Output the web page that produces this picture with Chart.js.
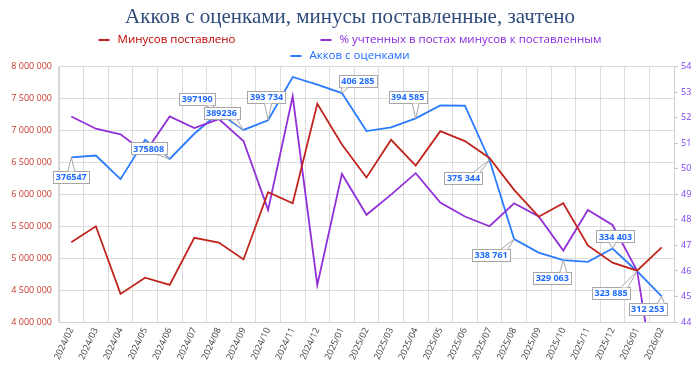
<!DOCTYPE html>
<html>
<head>
<meta charset="utf-8">
<script src="https://cdn.jsdelivr.net/npm/chart.js@4"></script>
<style>
  html, body { margin: 0; padding: 0; background: #fff; }
  #wrap { width: 700px; height: 368px; }
</style>
</head>
<body>
<div id="wrap"><canvas id="chart"></canvas></div>
<script>
const months = ["2024/02", "2024/03", "2024/04", "2024/05", "2024/06", "2024/07", "2024/08", "2024/09",
  "2024/10", "2024/11", "2024/12", "2025/01", "2025/02", "2025/03", "2025/04", "2025/05", "2025/06",
  "2025/07", "2025/08", "2025/09", "2025/10", "2025/11", "2025/12", "2026/01", "2026/02"];

const minusesGiven = [5250000, 5500000, 4440000, 4695000, 4580000, 5320000, 5245000, 4980000,
  6035000, 5860000, 7420000, 6780000, 6265000, 6855000, 6450000, 6990000, 6835000,
  6570000, 6070000, 5650000, 5860000, 5200000, 4930000, 4805000, 5170000];

const countedPercent = [52.05, 51.57, 51.35, 50.63, 52.05, 51.6, 51.95, 51.09,
  48.39, 52.84, 45.45, 49.8, 48.2, 48.99, 49.83, 48.68, 48.13,
  47.75, 48.65, 48.13, 46.8, 48.39, 47.8, 46.01, 40.0];

const accountsRated = [376547, 377423, 366494, 384694, 375808, 387472, 397190, 389236,
  393734, 413730, 410164, 406285, 388723, 390390, 394585, 400578, 400439,
  375344, 338761, 332502, 329063, 328195, 334403, 323885, 312253];

// подписи к точкам "Акков с оценками"
const accountLabels = ["376547", null, null, null, "375808", null, "397190", "389236",
  "393 734", null, null, "406 285", null, null, "394 585", null, null,
  "375 344", "338 761", null, "329 063", null, "334 403", "323 885", "312 253"];

const seriesNames = ["Минусов поставлено", "% учтенных в постах минусов к поставленным", "Акков с оценками"];

// смещения выносок относительно точки, px
const calloutOffsets = {
  0: [0, 20], 4: [-21, -10.5], 6: [-21.6, -13.5], 7: [-22, -17], 8: [-1.5, -23],
  11: [16, -12], 14: [-8, -21], 17: [-26, 18], 18: [-23, 16], 20: [-11, 17.5],
  22: [3, -12], 23: [-26, 22], 24: [-14, 13]
};

const legendPlugin = {
  id: "rowLegend",
  afterDraw(chart) {
    const ctx = chart.ctx;
    const rows = [[0, 1], [2]];
    const rowY = [40, 56];
    const gap = 85;
    ctx.save();
    ctx.font = '11.5px "Open Sans"';
    ctx.textBaseline = "middle";
    rows.forEach((row, r) => {
      const items = row.map(i => {
        const ds = chart.data.datasets[i];
        return { ds, w: 19 + ctx.measureText(ds.label).width };
      });
      const total = items.reduce((a, it) => a + it.w, 0) + gap * (items.length - 1);
      let x = (chart.width - total) / 2;
      items.forEach(it => {
        ctx.strokeStyle = it.ds.borderColor;
        ctx.lineWidth = 2;
        ctx.beginPath();
        ctx.moveTo(x, rowY[r]);
        ctx.lineTo(x + 11, rowY[r]);
        ctx.stroke();
        ctx.fillStyle = it.ds.legendColor;
        ctx.fillText(it.ds.label, x + 19, rowY[r]);
        x += it.w + gap;
      });
    });
    ctx.restore();
  }
};

const calloutPlugin = {
  id: "callouts",
  afterDatasetsDraw(chart) {
    const ctx = chart.ctx;
    const meta = chart.getDatasetMeta(2);
    ctx.save();
    ctx.font = 'bold 9px "Open Sans"';
    ctx.textAlign = "center";
    ctx.textBaseline = "middle";
    accountLabels.forEach((txt, i) => {
      if (!txt) return;
      const pt = meta.data[i];
      const off = calloutOffsets[i];
      const cx = pt.x + off[0], cy = pt.y + off[1];
      const w = ctx.measureText(txt).width + 5, h = 12;
      const l = cx - w / 2, t = cy - h / 2;
      ctx.fillStyle = "#fff";
      ctx.strokeStyle = "#a6a6a6";
      ctx.lineWidth = 1;
      ctx.fillRect(l, t, w, h);
      ctx.strokeRect(Math.round(l) + 0.5, Math.round(t) + 0.5, Math.round(w), h);
      // хвостик выноски
      const edgeY = pt.y < t ? Math.round(t) + 0.5 : Math.round(t) + h + 0.5;
      const bx = Math.min(Math.max(pt.x, l + 6), l + w - 6);
      ctx.beginPath();
      ctx.moveTo(bx - 3.5, edgeY);
      ctx.lineTo(pt.x, pt.y);
      ctx.lineTo(bx + 3.5, edgeY);
      ctx.fill();
      ctx.stroke();
      ctx.fillStyle = "#1f6bff";
      ctx.fillText(txt, cx, cy + 0.5);
    });
    ctx.restore();
  }
};

const fmt = v => String(v).replace(/\B(?=(\d{3})+(?!\d))/g, " ");

new Chart(document.getElementById("chart"), {
  type: "line",
  data: {
    labels: months,
    datasets: [
      { label: seriesNames[0], data: minusesGiven, yAxisID: "y", borderColor: "#c0241c", legendColor: "#c00000",
        borderWidth: 1.8, pointRadius: 0, tension: 0, clip: 0 },
      { label: seriesNames[1], data: countedPercent, yAxisID: "y1", borderColor: "#9130d8", legendColor: "#8a2be2",
        borderWidth: 1.8, pointRadius: 0, tension: 0, clip: 0 },
      { label: seriesNames[2], data: accountsRated, yAxisID: "y2", borderColor: "#2a7bff", legendColor: "#1f6bff",
        borderWidth: 1.8, pointRadius: 0, tension: 0, clip: 0 }
    ]
  },
  options: {
    responsive: true,
    maintainAspectRatio: false,
    animation: false,
    layout: { padding: 0 },
    plugins: {
      legend: { display: false },
      tooltip: { enabled: false },
      title: {
        display: true,
        text: "Акков с оценками, минусы поставленные, зачтено",
        color: "#2f4b7c",
        font: { family: '"Liberation Serif"', size: 21, weight: "normal" },
        padding: { top: 4.5, bottom: 37 }
      }
    },
    scales: {
      x: {
        offset: true,
        grid: { offset: true, color: "#dcdcdc", drawTicks: false },
        border: { color: "#d0d0d0" },
        ticks: { minRotation: 65, maxRotation: 65, autoSkip: false, padding: 4, color: "#404040",
          font: { family: '"Open Sans"', size: 9 } },
        afterFit(s) { s.height = 46; }
      },
      y: {
        position: "left",
        min: 4000000, max: 8000000,
        grid: { color: "#dcdcdc", drawTicks: false },
        border: { color: "#d0d0d0" },
        ticks: { stepSize: 500000, padding: 7, color: "#c0392b", callback: v => fmt(v),
          font: { family: '"Open Sans"', size: 9 } },
        afterFit(s) { s.width = 59; }
      },
      y1: {
        position: "right",
        min: 44, max: 54,
        grid: { drawOnChartArea: false, color: "#c8c8c8", tickLength: 4 },
        border: { color: "#d0d0d0" },
        ticks: { stepSize: 1, padding: 3, color: "#7b3ff2",
          font: { family: '"Open Sans"', size: 9 } },
        afterFit(s) { s.width = 26; }
      },
      y2: {
        display: false,
        min: 300400, max: 418500
      }
    }
  },
  plugins: [legendPlugin, calloutPlugin]
});
</script>
</body>
</html>
